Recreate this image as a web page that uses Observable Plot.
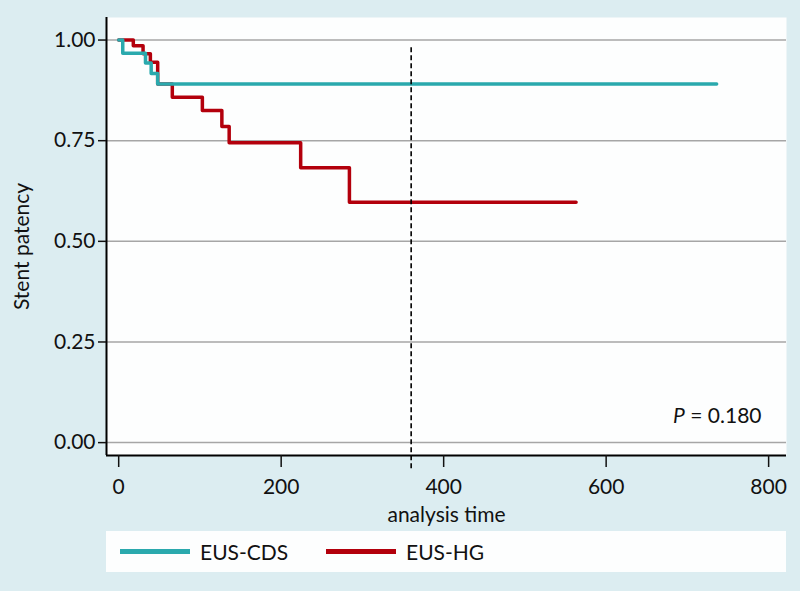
<!DOCTYPE html>
<html><head><meta charset="utf-8">
<script src="https://cdn.jsdelivr.net/npm/d3@7"></script>
<script src="https://cdn.jsdelivr.net/npm/@observablehq/plot@0.6"></script>
<style>
html,body{margin:0;padding:0;background:#dcedf1;}
#wrap{position:relative;width:800px;height:591px;font-family:Lato,sans-serif;overflow:hidden;}
#chart svg{display:block;}
#legend{position:absolute;left:106px;top:531px;width:680px;height:41px;background:#fdfefe;}
.item{position:absolute;top:0;height:41px;display:flex;align-items:center;font-size:21px;color:#111;}
.swatch{display:inline-block;width:70px;height:5px;margin-right:10px;}
</style></head><body>
<div id="wrap"><div id="chart"></div><div id="legend"></div></div>
<script>
// ---- data ----
const groups = ["EUS-CDS", "EUS-HG"];
const colors = ["#2aa9ad", "#b3000c"];
const cdsTime = [0, 5, 33, 40, 48, 736];
const cdsSurv = [1, 0.967, 0.943, 0.917, 0.891, 0.891];
const hgTime = [0, 18, 30, 39, 48, 66, 103, 127, 136, 224, 284, 563];
const hgSurv = [1, 0.986, 0.966, 0.945, 0.891, 0.858, 0.825, 0.785, 0.745, 0.683, 0.597, 0.597];
const markerTime = [360];
const xTicks = [0, 200, 400, 600, 800];
const yTicks = [0, 0.25, 0.5, 0.75, 1];
const xLabel = "analysis time";
const yLabel = "Stent patency";
const pValue = "0.180";

const cds = cdsTime.map((t, i) => ({t, s: cdsSurv[i], g: groups[0]}));
const hg = hgTime.map((t, i) => ({t, s: hgSurv[i], g: groups[1]}));

const xDom = [-15, 822], yDom = [-0.032, 1.056];
const font = "Lato, sans-serif";

const chart = Plot.plot({
  width: 800, height: 528,
  marginLeft: 106, marginRight: 14, marginTop: 17, marginBottom: 73,
  style: {background: "transparent", fontFamily: font, fontSize: "21px", color: "#111"},
  x: {domain: xDom},
  y: {domain: yDom},
  marks: [
    Plot.frame({fill: "#fdfefe", stroke: "none"}),
    Plot.gridY(yTicks, {stroke: "#a6a6a6", strokeOpacity: 1, strokeWidth: 1.5}),
    Plot.line(hg, {x: "t", y: "s", curve: "step-after", stroke: colors[1], strokeWidth: 3.5}),
    Plot.line(cds, {x: "t", y: "s", curve: "step-after", stroke: colors[0], strokeWidth: 3.5}),
    Plot.ruleX(markerTime, {y1: -0.065, y2: 0.981, stroke: "#000", strokeWidth: 1.6, strokeDasharray: "5,3"}),
    Plot.ruleX([xDom[0]], {stroke: "#000", strokeWidth: 2}),
    Plot.ruleY([yDom[0]], {stroke: "#000", strokeWidth: 2}),
    Plot.axisY(yTicks, {tickSize: 8, tickPadding: 3, tickFormat: d3.format(".2f"), label: null, fontSize: 21, strokeWidth: 1.5}),
    Plot.axisX(xTicks, {tickSize: 12, tickPadding: 12, label: null, fontSize: 21, strokeWidth: 1.5}),
    Plot.text([xLabel], {frameAnchor: "bottom", dy: 66, fontSize: 21}),
    Plot.text([yLabel], {frameAnchor: "left", textAnchor: "middle", lineAnchor: "middle", dx: -84, dy: 10, rotate: -90, fontSize: 21}),
    Plot.text(["P = " + pValue], {frameAnchor: "bottom-right", dx: -25, dy: -33, textAnchor: "end", fontSize: 21})
  ]
});
document.getElementById("chart").appendChild(chart);
// italicize P
chart.querySelectorAll("text").forEach(t => {
  if (t.textContent === "P = " + pValue) {
    t.textContent = "";
    const a = document.createElementNS("http://www.w3.org/2000/svg", "tspan");
    a.setAttribute("font-style", "italic"); a.textContent = "P";
    const b = document.createElementNS("http://www.w3.org/2000/svg", "tspan");
    b.textContent = " = " + pValue;
    t.appendChild(a); t.appendChild(b);
  }
});
// legend
const legend = document.getElementById("legend");
const lx = [[14, 94], [220, 299]];
groups.forEach((g, i) => {
  const d = document.createElement("div");
  d.className = "item"; d.style.left = lx[i][0] + "px";
  const sw = document.createElement("span"); sw.className = "swatch"; sw.style.background = colors[i];
  const tx = document.createElement("span"); tx.textContent = g;
  d.appendChild(sw); d.appendChild(tx);
  legend.appendChild(d);
});
</script>
</body></html>
